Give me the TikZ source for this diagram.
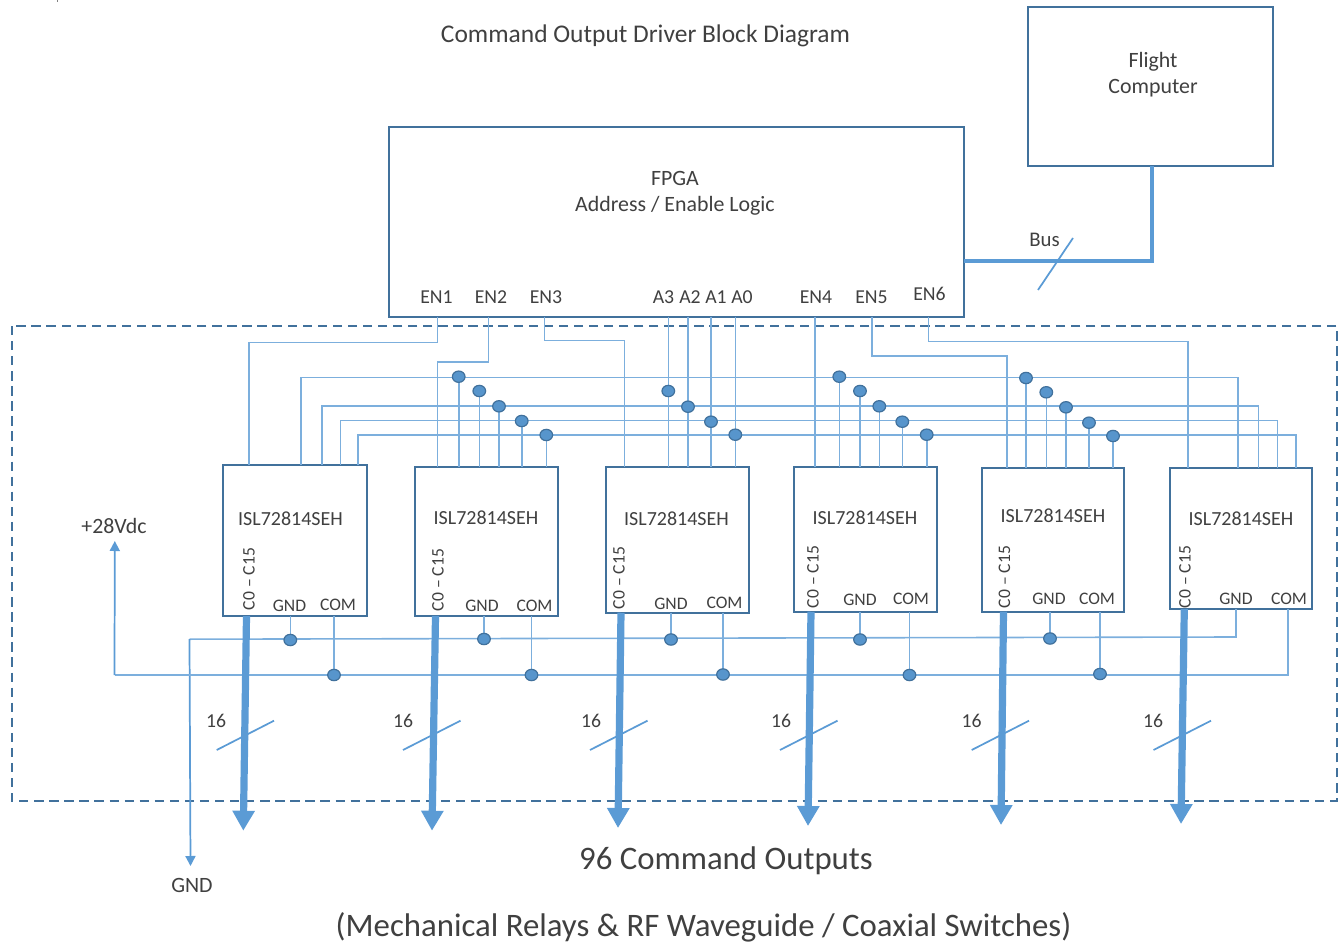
\documentclass[tikz,border=0pt]{standalone}
\usepackage{fontspec}
\setmainfont{Carlito}
\usetikzlibrary{arrows.meta,shapes.geometric}
\definecolor{boxc}{HTML}{41719C}
\definecolor{wirec}{HTML}{5B9BD5}
\definecolor{txtc}{HTML}{404040}
\newlength{\pxu}\setlength{\pxu}{0.75pt}
\tikzset{
 boxn/.style={draw=boxc,line width=1.6pt,fill=white,rectangle,inner sep=0pt,outer sep=0pt},
 wire/.style={draw=wirec!80!white,line width=1.2pt},
 busw/.style={draw=wirec,line width=2.3pt},
 fatarrow/.style={draw=wirec,line width=5.4pt,-{Triangle[width=16pt,length=15pt]}},
 thinarrow/.style={draw=wirec,line width=1.3pt,-{Triangle[width=7.5pt,length=7.5pt]}},
 slash/.style={draw=wirec,line width=1.3pt},
 dot/.style={ellipse,draw=boxc,fill=wirec!85!boxc,line width=0.9pt,minimum width=9.5pt,minimum height=8.5pt,inner sep=0pt,outer sep=0pt},
 region/.style={draw=boxc,line width=1.5pt,dash pattern=on 7pt off 4.3pt},
 lbl/.style={text=txtc,inner sep=0pt,font=\fontsize{14.8}{17}\selectfont},
 chiplbl/.style={text=txtc,inner sep=0pt,font=\fontsize{15}{18}\selectfont},
 boxlbl/.style={text=txtc,inner sep=0pt,font=\fontsize{16.4}{19}\selectfont},
 pinlbl/.style={text=txtc,inner sep=0pt,font=\fontsize{13.2}{16}\selectfont},
 vlbl/.style={pinlbl,rotate=90},
 biglbl/.style={text=txtc,inner sep=0pt,font=\fontsize{24.6}{29}\selectfont},
}
\begin{document}
\begin{tikzpicture}[x=0.75pt,y=-0.75pt]
\useasboundingbox (0,0) rectangle (1340,942);
\fill[gray] (56.5,0) rectangle (58,2.5);
% region
\draw[region] (11.5,326) rectangle (1337,800.5);
% boxes
\node[boxn,minimum width=245*\pxu,minimum height=158.7*\pxu] (fc) at (1150.8,86.7) {};
\node[boxn,minimum width=575*\pxu,minimum height=189.4*\pxu] (fpga) at (676.8,222) {};
\node[boxn,minimum width=143.4*\pxu,minimum height=150.7*\pxu] (chip1) at (295,540.7) {};
\node[boxn,minimum width=143.3*\pxu,minimum height=149.3*\pxu] (chip2) at (486.7,541.3) {};
\node[boxn,minimum width=142.4*\pxu,minimum height=145.7*\pxu] (chip3) at (677.5,539.9) {};
\node[boxn,minimum width=142.4*\pxu,minimum height=144.7*\pxu] (chip4) at (865.5,539.4) {};
\node[boxn,minimum width=142*\pxu,minimum height=143.4*\pxu] (chip5) at (1053.3,540) {};
\node[boxn,minimum width=142*\pxu,minimum height=140.7*\pxu] (chip6) at (1241,538.7) {};
% dot positions
\foreach \n/\x/\y in {d21/458.7/376.7,d22/479.3/391,d23/499/406.3,d24/521.7/421,d25/546.3/435,
 d31/668.3/391,d32/688/406.7,d33/711/421.7,d34/735.3/434.7,
 d41/839.3/376.7,d42/860/391,d43/879.3/406.3,d44/902.3/421.7,d45/926.7/434.7,
 d51/1026/378,d52/1046.3/392.3,d53/1066/407.3,d54/1089/422.7,d55/1113/436,
 g1/290.3/640,g2/484/639,g3/671/639.5,g4/860/639.5,g5/1050/638.5,
 c1/334/675,c2/531.5/675,c3/723/674.5,c4/909.5/675,c5/1100/674}
 {\coordinate (\n) at (\x,\y);}
% bus to computer
\coordinate (busc) at (1152,261);
\draw[busw] (fc.south -| busc) -- (busc) -- (busc -| fpga.east);
\coordinate (bs1) at (1038,290);\coordinate (bs2) at (1073,238);
\draw[slash] (bs1) -- (bs2);
% enable lines
\coordinate (en1) at (437.5,0 |- fpga.south);
\coordinate (en2) at (488.5,0 |- fpga.south);
\coordinate (en3) at (544.5,0 |- fpga.south);
\coordinate (en4) at (815,0 |- fpga.south);
\coordinate (en5) at (872,0 |- fpga.south);
\coordinate (en6) at (928.3,0 |- fpga.south);
\draw[wire] (en1) |- (249,342.6) -- (249,0 |- chip1.north);
\draw[wire] (en2) |- (437.5,362) -- (437.5,0 |- chip2.north);
\draw[wire] (en3) |- (624.5,340.5) -- (624.5,0 |- chip3.north);
\draw[wire] (en4) -- (en4 |- chip4.north);
\draw[wire] (en5) |- (1007,356) -- (1007,0 |- chip5.north);
\draw[wire] (en6) |- (1187.7,341.5) -- (1187.7,0 |- chip6.north);
% shared lines
\draw[wire] (301,0 |- chip1.north) |- (1238,377.5) -- (1238,0 |- chip6.north);
\draw[wire] (322,0 |- chip1.north) |- (1258.3,406) -- (1258.3,0 |- chip6.north);
\draw[wire] (340.5,0 |- chip1.north) |- (1277.3,420.3) -- (1277.3,0 |- chip6.north);
\draw[wire] (358,0 |- chip1.north) |- (1295.7,435) -- (1295.7,0 |- chip6.north);
% address lines from FPGA
\foreach \n in {d31,d32,d33,d34} {\draw[wire] (\n |- fpga.south) -- (\n |- chip3.north);}
% stems
\foreach \n in {d21,d22,d23,d24,d25} {\draw[wire] (\n) -- (\n |- chip2.north);}
\foreach \n in {d41,d42,d43,d44,d45} {\draw[wire] (\n) -- (\n |- chip4.north);}
\foreach \n in {d51,d52,d53,d54,d55} {\draw[wire] (\n) -- (\n |- chip5.north);}
% ground and common rails
\coordinate (gndc) at (189.5,639.2);
\coordinate (gndend) at (190.5,866);
\coordinate (gndr) at (1236,637);
\draw[wire] (gndc) -- (gndr) -- (gndr |- chip6.south);
\draw[thinarrow] (gndc) -- (gndend);
\coordinate (comr) at (1288,675);
\coordinate (coml) at (114.5,675);
\coordinate (vtop) at (114.8,541);
\draw[wire] (comr |- chip6.south) -- (comr) -- (coml);
\draw[thinarrow] (coml) -- (vtop);
\foreach \n/\m in {g1/chip1,g2/chip2,g3/chip3,g4/chip4,g5/chip5,c1/chip1,c2/chip2,c3/chip3,c4/chip4,c5/chip5}
 {\draw[wire] (\n) -- (\n |- \m.south);}
% dots on top
\foreach \n in {d21,d22,d23,d24,d25,d31,d32,d33,d34,d41,d42,d43,d44,d45,d51,d52,d53,d54,d55,g1,g2,g3,g4,g5,c1,c2,c3,c4,c5}
 {\node[dot] (n\n) at (\n) {};}
% output arrows
\foreach \m/\xa/\xb/\yb in {chip1/246.5/243.3/830.7,chip2/435.5/432/830.7,chip3/621/618/828,chip4/811/808/826,chip5/1003.5/1001/825,chip6/1184.3/1181/824}
 {\coordinate (o\m) at (\xb,\yb); \draw[fatarrow] (\xa,0 |- \m.south) -- (o\m);}
% slashes
\foreach \i/\xa/\xb/\xl in {1/216.7/274/216,2/403/460.5/403,3/590/647.5/591,4/780/837.5/781,5/971.7/1029/971.5,6/1153.5/1211/1153}
 {\coordinate (sa\i) at (\xa,750); \coordinate (sb\i) at (\xb,720.7); \draw[slash] (sa\i) -- (sb\i);
  \node[lbl] (sl\i) at (\xl,720.5) {16};}
% chip labels
\foreach \i/\x/\y in {1/290.5/519,2/486/517.5,3/676.5/519,4/865/518,5/1053/516,6/1241/519}
 {\node[chiplbl] (part\i) at (\x,\y) {ISL72814SEH};}
\foreach \i/\x/\y in {1/249/579,2/438/580,3/619/578,4/813/577,5/1004.5/577,6/1185/577}
 {\node[vlbl] (cc\i) at (\x,\y) {C0 – C15};}
\foreach \i/\x/\y in {1/289.5/606,2/482/606,3/671/604,4/860/600,5/1049/599,6/1236/599}
 {\node[pinlbl] (gl\i) at (\x,\y) {GND};}
\foreach \i/\x/\y in {1/338/605,2/534.5/606,3/724.5/603,4/911/599,5/1097/599,6/1289/599}
 {\node[pinlbl] (cl\i) at (\x,\y) {COM};}
% FPGA pins
\foreach \t/\x/\y in {EN1/436.5/297,EN2/491/297,EN3/546/297,A3/663.5/297,A2/690/297,A1/716/297,A0/742/297,EN4/816/297,EN5/871.5/297,EN6/929.5/294}
 {\node[lbl] (t\t) at (\x,\y) {\t};}
\node[boxlbl] (t1) at (675,178.5) {FPGA};
\node[boxlbl] (t2) at (675,205.5) {Address / Enable Logic};
\node[boxlbl] (t3) at (1153,61.5) {Flight};
\node[boxlbl] (t4) at (1153,88.5) {Computer};
\node[lbl,font=\fontsize{15.6}{18}\selectfont] (t5) at (1044.5,240) {Bus};
\node[boxlbl] (t6) at (114,526) {+28Vdc};
\node[boxlbl] (t7) at (192,885) {GND};
\node[text=txtc,inner sep=0pt,font=\fontsize{19.1}{23}\selectfont] (title) at (645.5,35.5) {Command Output Driver Block Diagram};
\node[biglbl] (o1) at (726,861) {96 Command Outputs};
\node[biglbl] (o2) at (703.5,927) {(Mechanical Relays \& RF Waveguide / Coaxial Switches)};
\end{tikzpicture}
\end{document}
